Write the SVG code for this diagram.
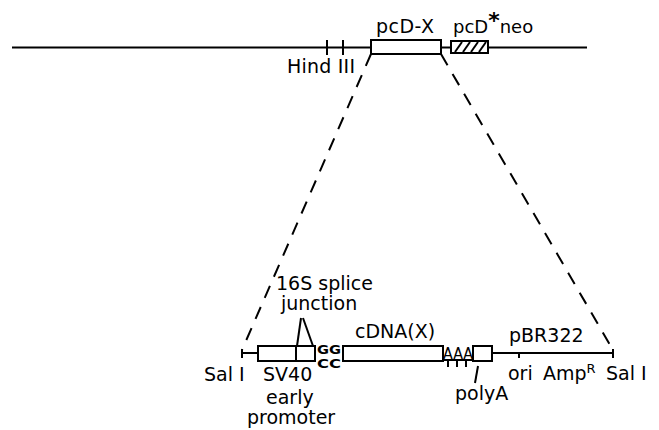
<svg xmlns="http://www.w3.org/2000/svg" width="659" height="430" viewBox="0 0 659 430">
<style>
  .ln{stroke:#000;stroke-width:2;fill:none}
  .bx{stroke:#000;stroke-width:2;fill:#fff}
  .ds{stroke:#000;stroke-width:2;fill:none;stroke-dasharray:13 10}
  text{font-family:"DejaVu Sans","Liberation Sans",Arial,sans-serif;fill:#000}
  .t{font-size:19px}
  .nt{font-size:12px;font-weight:bold}
</style>
<rect width="659" height="430" fill="#fff"/>
<g id="connectors">
  <line class="ds" x1="371" y1="54" x2="242" y2="350"/>
  <line class="ds" x1="441" y1="54" x2="613" y2="350"/>
</g>
<g id="chromosome">
  <line class="ln" x1="12" y1="47.5" x2="587" y2="47.5"/>
  <line class="ln" x1="327" y1="40" x2="327" y2="55"/>
  <line class="ln" x1="343" y1="40" x2="343" y2="55"/>
  <text class="t" x="287" y="73" textLength="68" lengthAdjust="spacing">Hind III</text>
</g>
<g id="pcD-X">
  <rect class="bx" x="371" y="40" width="70" height="14"/>
  <text class="t" x="376" y="33" textLength="58" lengthAdjust="spacing">pcD-X</text>
</g>
<g id="pcD-neo">
  <rect class="bx" x="451" y="41" width="37" height="12"/>
  <g class="ln" stroke-width="1.8">
    <line x1="455" y1="52" x2="462" y2="42"/>
    <line x1="463" y1="52" x2="470" y2="42"/>
    <line x1="471" y1="52" x2="478" y2="42"/>
    <line x1="479" y1="52" x2="486" y2="42"/>
  </g>
  <text x="453" y="33" font-size="18">pcD<tspan font-size="22" font-weight="bold" dy="-5">*</tspan><tspan dy="5">neo</tspan></text>
</g>
<g id="vector-backbone">
  <line class="ln" x1="242" y1="349" x2="242" y2="358"/>
  <line class="ln" x1="242" y1="353" x2="258" y2="353"/>
  <line class="ln" x1="492" y1="353" x2="613" y2="353"/>
  <line class="ln" x1="613" y1="349" x2="613" y2="358"/>
  <line class="ln" x1="519" y1="353" x2="519" y2="358"/>
  <text class="t" x="204" y="381">Sal I</text>
  <text class="t" x="509" y="342">pBR322</text>
  <text class="t" x="508" y="380">ori</text>
  <text class="t" x="543" y="380">Amp<tspan font-size="13" dy="-7">R</tspan></text>
  <text class="t" x="606" y="380">Sal I</text>
</g>
<g id="SV40-promoter">
  <rect class="bx" x="258" y="346" width="57" height="15"/>
  <line class="ln" x1="296" y1="346" x2="296" y2="361"/>
  <line class="ln" x1="297" y1="346" x2="301" y2="318"/>
  <line class="ln" x1="313" y1="346" x2="303" y2="318"/>
  <text class="t" x="276" y="290">16S splice</text>
  <text class="t" x="281" y="310">junction</text>
  <text class="t" x="263" y="381">SV40</text>
  <text class="t" x="266" y="404">early</text>
  <text class="t" x="247" y="424">promoter</text>
  <text class="nt" x="317" y="354" textLength="24" lengthAdjust="spacingAndGlyphs">GG</text>
  <text class="nt" x="317" y="368" textLength="24" lengthAdjust="spacingAndGlyphs">CC</text>
</g>
<g id="cDNA">
  <rect class="bx" x="343" y="346" width="100" height="15"/>
  <text class="t" x="355" y="338">cDNA(X)</text>
</g>
<g id="polyA">
  <line class="ln" x1="443" y1="360" x2="473" y2="360"/>
  <text x="443" y="359" font-size="15" textLength="30" lengthAdjust="spacingAndGlyphs">AAA</text>
  <line class="ln" x1="448" y1="360" x2="448" y2="367"/>
  <line class="ln" x1="457" y1="360" x2="457" y2="367"/>
  <line class="ln" x1="466" y1="360" x2="466" y2="367"/>
  <rect class="bx" x="473" y="346" width="19" height="15"/>
  <line class="ln" x1="478" y1="366" x2="475" y2="383"/>
  <text class="t" x="455" y="400">polyA</text>
</g>
</svg>
